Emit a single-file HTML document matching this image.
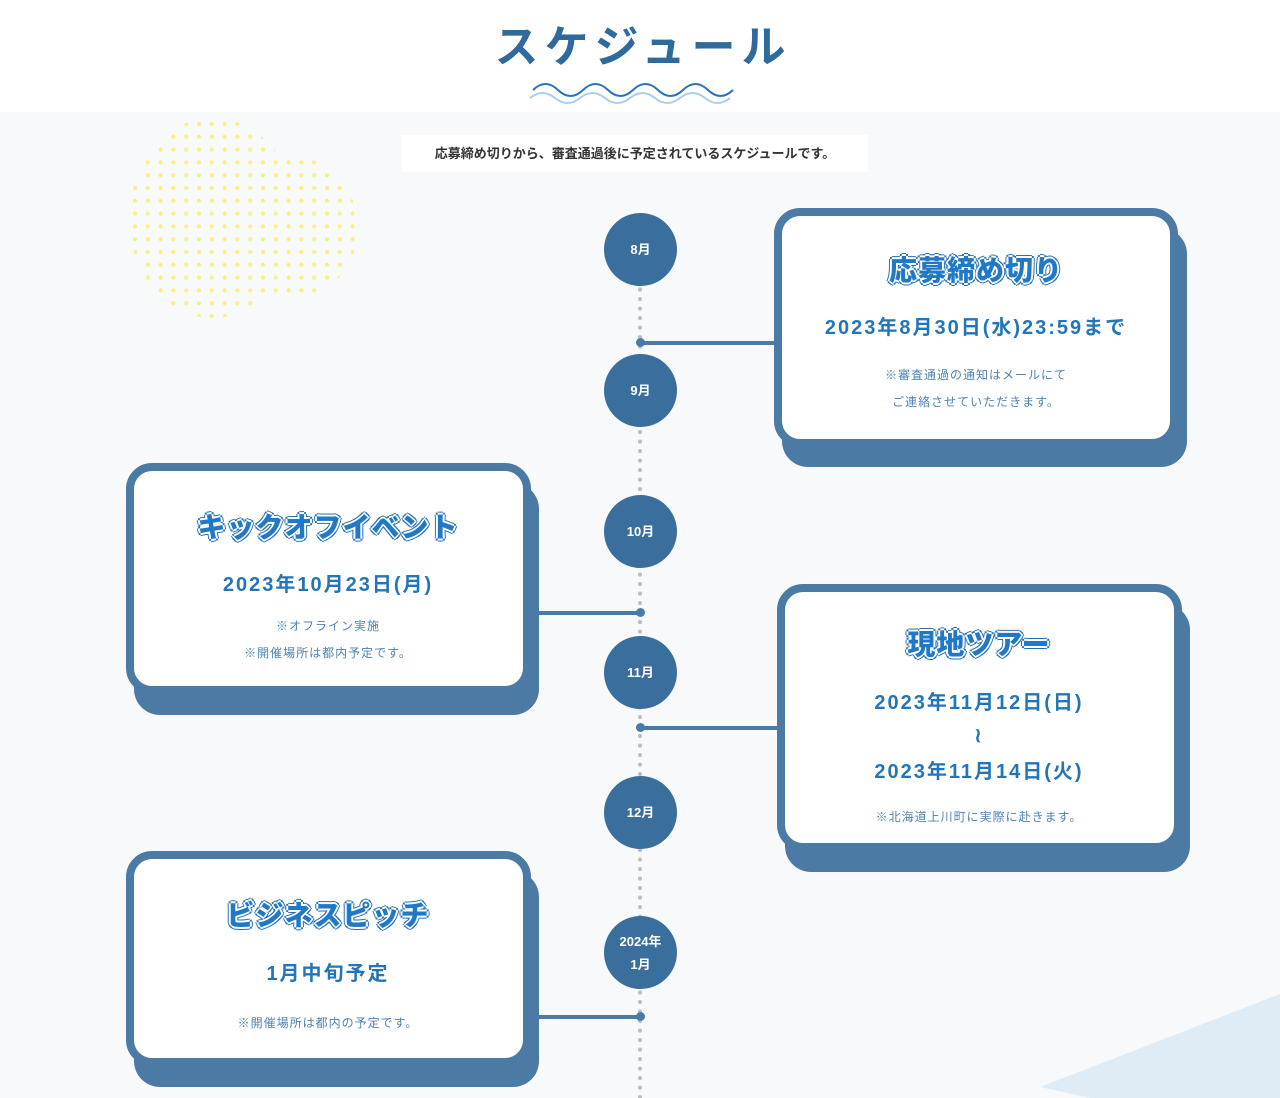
<!DOCTYPE html>
<html><head><meta charset="utf-8">
<style>
*{margin:0;padding:0;box-sizing:border-box}
body{width:1280px;height:1098px;overflow:hidden;background:#f8f9fb;position:relative;font-family:"Liberation Sans","Noto Sans CJK JP",sans-serif}
.abs{position:absolute}
.t{position:absolute;text-align:center;white-space:nowrap;height:40px;line-height:40px}
.shadow{position:absolute;background:#4b7aa5;border-radius:26px}
.card{position:absolute;background:#fff;border:8px solid #4b7aa5;border-radius:26px}
.circ{position:absolute;width:73px;height:73px;border-radius:50%;background:#3a6f9d;color:#fff;font-weight:bold;font-size:13px;text-align:center;display:flex;align-items:center;justify-content:center;line-height:23px;left:604px}
.dot{position:absolute;width:9px;height:9px;border-radius:50%;background:#4b7aa5;left:636px}
.conn{position:absolute;height:4px;background:#4b7aa5}
.ttl{font-size:28px;font-weight:900;color:#1f78c8;letter-spacing:1px;text-shadow:0 0 2px #fff,2px 0 0 #fff,-2px 0 0 #fff,0 2px 0 #fff,0 -2px 0 #fff,3px 0 0 #1f6fb5,-3px 0 0 #1f6fb5,0 3px 0 #1f6fb5,0 -3px 0 #1f6fb5,2px 2px 0 #1f6fb5,-2px -2px 0 #1f6fb5,2px -2px 0 #1f6fb5,-2px 2px 0 #1f6fb5}
.date{font-size:20px;font-weight:bold;color:#2275b9;letter-spacing:2px}
.note{font-size:12px;color:#4d82b5;letter-spacing:1px}
</style></head><body>
<div class="abs" style="left:0;top:0;width:1280px;height:112px;background:#fff"></div>
<svg class="abs" style="left:0;top:0" width="1280" height="1098">
<defs>
<pattern id="p" x="133" y="122" width="12.8" height="12.8" patternUnits="userSpaceOnUse"><circle cx="2" cy="2" r="2.1" fill="#fcef7a"/></pattern>
<clipPath id="c"><ellipse cx="213" cy="218" rx="84" ry="100"/><ellipse cx="290" cy="228" rx="68" ry="72"/></clipPath>
</defs>
<rect x="120" y="110" width="250" height="220" fill="url(#p)" clip-path="url(#c)"/>
<polygon points="1040,1087 1280,994 1280,1098 1090,1098" fill="#dfecf6"/>
<path d="M530,94 q12.5,-10 25,0 t25,0 t25,0 t25,0 t25,0 t25,0 t25,0 t25,0" fill="none" stroke="#a9cdee" stroke-width="2" transform="translate(0,4)"/>
<path d="M533,90 q12.5,-12 25,0 t25,0 t25,0 t25,0 t25,0 t25,0 t25,0 t25,0" fill="none" stroke="#2a72bd" stroke-width="2"/>
<line x1="640" y1="280" x2="640" y2="1098" stroke="#b9bcc2" stroke-width="4" stroke-dasharray="0.1 9.4" stroke-linecap="round"/>
</svg>
<div class="t" style="left:0;width:1280px;top:23px;height:50px;line-height:50px;font-size:44px;font-weight:bold;color:#2f6a9c;letter-spacing:6px;padding-left:6px">スケジュール</div>
<div class="abs" style="left:402px;top:135px;width:466px;height:37px;background:#fff"></div>
<div class="t" style="left:402px;width:466px;top:134px;font-size:13px;font-weight:bold;color:#333;height:40px;line-height:40px">応募締め切りから、審査通過後に予定されているスケジュールです。</div>

<div class="circ" style="top:213px">8月</div>
<div class="circ" style="top:354px">9月</div>
<div class="circ" style="top:495px">10月</div>
<div class="circ" style="top:636px">11月</div>
<div class="circ" style="top:776px">12月</div>
<div class="circ" style="top:916px">2024年<br>1月</div>

<div class="conn" style="left:640px;width:140px;top:341px"></div><div class="dot" style="top:338px"></div>
<div class="conn" style="left:530px;width:110px;top:611px"></div><div class="dot" style="top:608px"></div>
<div class="conn" style="left:640px;width:142px;top:726px"></div><div class="dot" style="top:723px"></div>
<div class="conn" style="left:530px;width:110px;top:1015px"></div><div class="dot" style="top:1012px"></div>

<div class="shadow" style="left:782px;top:228px;width:405px;height:239px"></div>
<div class="card" style="left:774px;top:208px;width:404px;height:239px"></div>
<div class="shadow" style="left:134px;top:483px;width:405px;height:232px"></div>
<div class="card" style="left:126px;top:463px;width:405px;height:231px"></div>
<div class="shadow" style="left:785px;top:604px;width:405px;height:268px"></div>
<div class="card" style="left:777px;top:584px;width:405px;height:267px"></div>
<div class="shadow" style="left:134px;top:871px;width:405px;height:216px"></div>
<div class="card" style="left:126px;top:851px;width:405px;height:215px"></div>

<div class="t ttl" style="left:776px;width:400px;top:251px">応募締め切り</div>
<div class="t date" style="left:776px;width:400px;top:308px">2023年8月30日(水)23:59まで</div>
<div class="t note" style="left:776px;width:400px;top:355px">※審査通過の通知はメールにて</div>
<div class="t note" style="left:776px;width:400px;top:382px">ご連絡させていただきます。</div>

<div class="t ttl" style="left:128px;width:400px;top:508px">キックオフイベント</div>
<div class="t date" style="left:128px;width:400px;top:565px">2023年10月23日(月)</div>
<div class="t note" style="left:128px;width:400px;top:606px">※オフライン実施</div>
<div class="t note" style="left:128px;width:400px;top:633px">※開催場所は都内予定です。</div>

<div class="t ttl" style="left:779px;width:400px;top:625px">現地ツアー</div>
<div class="t date" style="left:779px;width:400px;top:683px">2023年11月12日(日)</div>
<div class="t date" style="left:779px;width:400px;top:716px">≀</div>
<div class="t date" style="left:779px;width:400px;top:752px">2023年11月14日(火)</div>
<div class="t note" style="left:779px;width:400px;top:797px">※北海道上川町に実際に赴きます。</div>

<div class="t ttl" style="left:128px;width:400px;top:896px">ビジネスピッチ</div>
<div class="t date" style="left:128px;width:400px;top:954px">1月中旬予定</div>
<div class="t note" style="left:128px;width:400px;top:1003px">※開催場所は都内の予定です。</div>
</body></html>
